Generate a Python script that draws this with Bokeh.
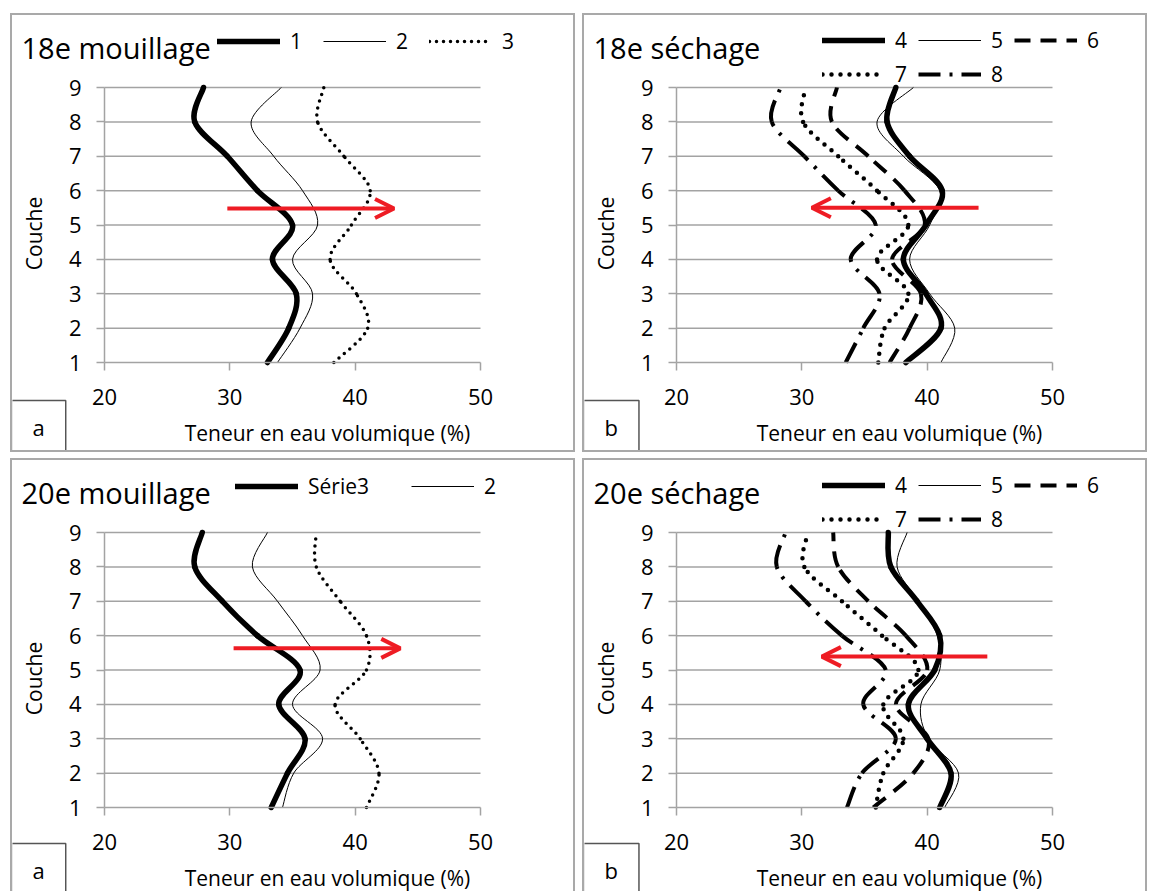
import numpy as np
from bokeh.plotting import figure
from bokeh.models import (FixedTicker, Legend, LegendItem, Label, Arrow, OpenHead,
                          Range1d, ColumnDataSource)
from bokeh.layouts import column, row
from bokeh.embed import file_html
from bokeh.resources import INLINE

# ---------------- data ----------------
couche = [1, 2, 3, 4, 5, 6, 7, 8, 9]
x_ticks = [20, 30, 40, 50]
y_ticks = [1, 2, 3, 4, 5, 6, 7, 8, 9]

# 18e mouillage
m18_1 = [33.0, 34.7, 35.3, 33.4, 35.0, 32.2, 29.8, 27.2, 27.9]
m18_2 = [33.8, 35.6, 36.6, 35.0, 37.0, 35.8, 33.5, 31.7, 34.1]
m18_3 = [38.3, 41.0, 40.1, 38.0, 39.7, 41.2, 39.1, 37.0, 37.5]
# 20e mouillage
m20_1 = [33.3, 34.6, 36.0, 33.9, 35.6, 32.2, 29.4, 27.2, 27.8]
m20_2 = [34.2, 35.1, 37.4, 35.0, 37.2, 35.8, 33.8, 31.8, 33.0]
m20_3 = [40.9, 41.9, 40.4, 38.4, 40.9, 40.9, 38.8, 36.9, 36.9]
# 18e séchage
s18_4 = [38.3, 41.1, 39.9, 38.1, 39.9, 41.2, 38.6, 36.8, 37.5]
s18_5 = [41.1, 42.2, 40.2, 38.6, 40.2, 41.0, 38.1, 36.0, 38.9]
s18_6 = [37.0, 38.6, 39.5, 37.2, 39.8, 38.2, 35.3, 32.4, 32.8]
s18_7 = [36.1, 36.6, 38.5, 36.0, 38.5, 36.0, 32.9, 30.1, 30.3]
s18_8 = [33.5, 34.9, 36.2, 33.9, 35.9, 32.9, 30.2, 27.6, 28.3]
# 20e séchage
s20_4 = [41.0, 41.9, 40.0, 38.5, 40.6, 41.0, 39.2, 37.1, 36.9]
s20_5 = [41.4, 42.5, 40.1, 39.5, 41.0, 40.8, 39.3, 37.6, 38.4]
s20_6 = [35.7, 38.9, 40.1, 37.5, 40.0, 38.3, 35.3, 32.9, 32.5]
s20_7 = [35.9, 36.5, 38.1, 36.5, 39.3, 36.4, 33.2, 30.2, 30.5]
s20_8 = [33.6, 34.8, 37.5, 34.9, 36.7, 33.2, 30.3, 28.0, 28.7]

# arrows: (x_start, x_end, y)
arrow_m18 = [29.8, 43.1, 5.48]
arrow_s18 = [44.1, 30.8, 5.50]
arrow_m20 = [30.3, 43.6, 5.63]
arrow_s20 = [44.8, 31.6, 5.39]

titles = ["18e mouillage", "18e séchage", "20e mouillage", "20e séchage"]
x_label = "Teneur en eau volumique (%)"
y_label = "Couche"

FONT = "Open Sans"
GRID = "#a3a3a3"
RED = "#ee1c24"

OUT_W = 565            # outer width of a panel; the canvas has the same size
PX_L, PX_R = 92, 468   # canvas x of 20 and 50
PY_T, PY_B = 72, 347   # canvas y of 9 and 1


def smooth_source(xs, ys):
    P = np.column_stack([np.asarray(xs, float), np.asarray(ys, float)])
    n = len(P)
    ext = np.vstack([P[0], P, P[-1]])
    c0 = P[:-1] + (ext[2:n + 1] - ext[0:n - 1]) / 6.0
    c1 = P[1:] - (ext[3:n + 2] - ext[1:n]) / 6.0
    return ColumnDataSource(dict(x0=P[:-1, 0], y0=P[:-1, 1], x1=P[1:, 0], y1=P[1:, 1],
                                 cx0=c0[:, 0], cy0=c0[:, 1], cx1=c1[:, 0], cy1=c1[:, 1]))


def make_panel(out_h, title, letter, letter_top, bottom_border=True):
    cw, ch = OUT_W, out_h
    xs = (x_ticks[-1] - x_ticks[0]) / (PX_R - PX_L)
    ys = (y_ticks[-1] - y_ticks[0]) / (PY_B - PY_T)
    xr = Range1d(x_ticks[0] - PX_L * xs, x_ticks[-1] + (cw - PX_R) * xs)
    yr = Range1d(y_ticks[0] - (ch - PY_B) * ys, y_ticks[-1] + PY_T * ys)
    p = figure(width=OUT_W, height=out_h, x_range=xr, y_range=yr,
               output_backend="svg", toolbar_location=None, min_border=0)
    p.outline_line_color = None
    p.xgrid.visible = False
    p.ygrid.visible = False
    p.background_fill_color = "white"
    p.border_fill_color = "white"
    p.xaxis.ticker = FixedTicker(ticks=x_ticks)
    p.yaxis.ticker = FixedTicker(ticks=y_ticks)
    p.xaxis.fixed_location = y_ticks[0]
    p.yaxis.fixed_location = x_ticks[0]
    p.xaxis.bounds = (x_ticks[0], x_ticks[-1])
    p.yaxis.bounds = (y_ticks[0], y_ticks[-1])
    for ax in (p.xaxis[0], p.yaxis[0]):
        ax.axis_line_color = GRID
        ax.axis_line_width = 1.5
        ax.major_tick_line_color = GRID
        ax.major_tick_line_width = 1.5
        ax.major_tick_out = 8
        ax.major_tick_in = 0
        ax.minor_tick_line_color = None
        ax.major_label_text_font = FONT
        ax.major_label_text_font_size = "22px"
        ax.major_label_text_color = "black"
    p.yaxis.major_label_standoff = 15
    p.xaxis.major_label_standoff = 18
    border = "2px solid #a9a9a9"
    if bottom_border:
        p.styles = {"border": border}
    else:
        p.styles = {"border-top": border, "border-left": border, "border-right": border}

    # horizontal grid lines (from the tick values)
    p.segment(x0=[x_ticks[0]] * (len(y_ticks) - 1), x1=[x_ticks[-1]] * (len(y_ticks) - 1),
              y0=y_ticks[1:], y1=y_ticks[1:], line_color=GRID, line_width=1.5)

    # title
    p.add_layout(Label(x=9, y=ch - 32, x_units="screen", y_units="screen",
                       text=title, text_font=FONT, text_font_size="29px",
                       text_color="black", text_baseline="alphabetic"))
    # x label
    p.add_layout(Label(x=315, y=ch - 417, x_units="screen", y_units="screen",
                       text=x_label, text_font=FONT, text_font_size="21px",
                       text_color="black", text_align="center", text_baseline="alphabetic"))
    # y label
    p.add_layout(Label(x=21, y=ch - 218, x_units="screen", y_units="screen",
                       text=y_label, text_font=FONT, text_font_size="21px", angle=np.pi / 2,
                       text_color="black", text_align="center", text_baseline="middle"))
    # panel letter box
    p.add_layout(Label(x=-1, y=ch - letter_top, x_units="screen", y_units="screen",
                       text=letter, text_font=FONT, text_font_size="22px",
                       text_color="black", text_align="left", text_baseline="top",
                       padding=(21, 11), border_line_color="#555555", border_line_width=1.5,
                       background_fill_color="white"))
    return p, ch


def add_series(p, xs, style):
    src = smooth_source(xs, couche)
    return p.bezier(x0="x0", y0="y0", x1="x1", y1="y1", cx0="cx0", cy0="cy0",
                    cx1="cx1", cy1="cy1", source=src, line_color="black", **style)


THICK = dict(line_width=5.5, line_cap="round")
THIN = dict(line_width=1)
DOT_A = dict(line_width=3.5, line_dash="0 7", line_cap="round")
DOT_B = dict(line_width=4.5, line_dash="0 9", line_cap="round")
DASH = dict(line_width=4, line_dash="16 10")
DASHDOT = dict(line_width=4, line_dash="22 9 3 9")


def add_arrow(p, arr):
    p.add_layout(Arrow(x_start=arr[0], y_start=arr[2], x_end=arr[1], y_end=arr[2],
                       line_color=RED, line_width=4,
                       end=OpenHead(size=19, line_color=RED, line_width=4)))


def add_legend(p, items, vx, vy, ncols, spacing, label_width=17):
    lg = Legend(items=items, location=(vx, vy), orientation="horizontal", ncols=ncols,
                glyph_width=63, glyph_height=22, label_height=22, label_width=label_width,
                label_standoff=10, spacing=spacing, padding=0, margin=0,
                border_line_color=None, background_fill_alpha=0, label_text_font=FONT,
                label_text_font_size="21px", label_text_color="black")
    p.add_layout(lg)


HT, HB = 439, 433

# panel a : 18e mouillage
pa, cha = make_panel(HT, titles[0], "a", 385)
r1 = add_series(pa, m18_1, THICK)
r2 = add_series(pa, m18_2, THIN)
r3 = add_series(pa, m18_3, DOT_A)
add_arrow(pa, arrow_m18)
add_legend(pa, [LegendItem(label="1", renderers=[r1]), LegendItem(label="2", renderers=[r2]),
                LegendItem(label="3", renderers=[r3])], 205, cha - 40, 3, 16)

# panel b : 18e séchage
pb, chb = make_panel(HT, titles[1], "b", 385)
rb = [add_series(pb, s, st) for s, st in zip([s18_4, s18_5, s18_6, s18_7, s18_8],
                                             [THICK, THIN, DASH, DOT_B, DASHDOT])]
add_arrow(pb, arrow_s18)
add_legend(pb, [LegendItem(label=l, renderers=[r]) for l, r in zip(["4", "5", "6", "7", "8"], rb)],
           238, chb - 73, 3, 6)

# panel c : 20e mouillage
pc, chc = make_panel(HB, titles[2], "a", 383, bottom_border=False)
c1 = add_series(pc, m20_1, THICK)
c2 = add_series(pc, m20_2, THIN)
c3 = add_series(pc, m20_3, DOT_A)
add_arrow(pc, arrow_m20)
add_legend(pc, [LegendItem(label="Série3", renderers=[c1]), LegendItem(label="2", renderers=[c2])],
           223, chc - 40, 2, 42)

# panel d : 20e séchage
pd_, chd = make_panel(HB, titles[3], "b", 383, bottom_border=False)
rd = [add_series(pd_, s, st) for s, st in zip([s20_4, s20_5, s20_6, s20_7, s20_8],
                                              [THICK, THIN, DASH, DOT_B, DASHDOT])]
add_arrow(pd_, arrow_s20)
add_legend(pd_, [LegendItem(label=l, renderers=[r]) for l, r in zip(["4", "5", "6", "7", "8"], rd)],
           238, chd - 73, 3, 6)

layout = column(row(pa, pb, spacing=7), row(pc, pd_, spacing=7), spacing=6)
layout.margin = (13, 0, 0, 10)

open("out.html", "w").write(file_html(layout, INLINE))
